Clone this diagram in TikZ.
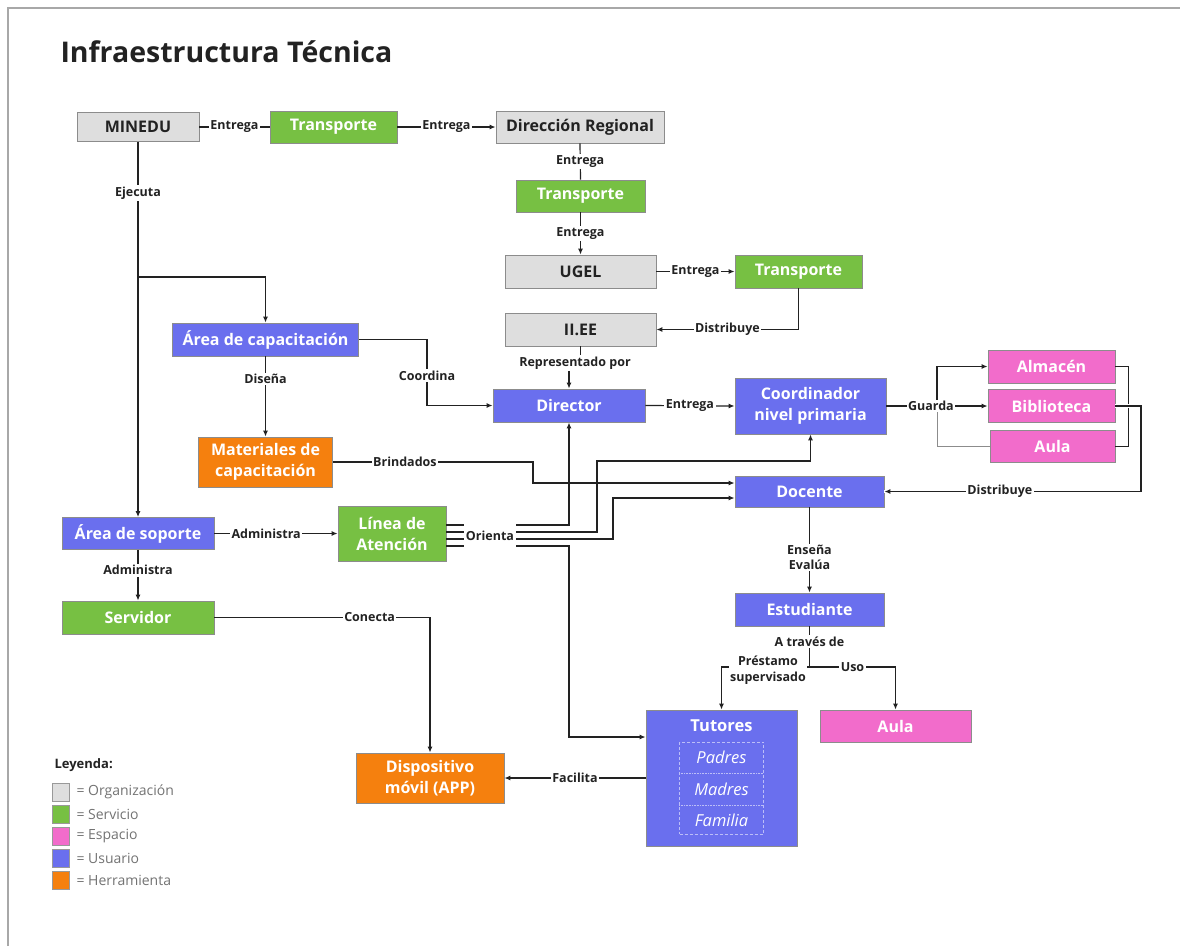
\documentclass[tikz,border=0pt]{standalone}
\usepackage{fontspec}
\setmainfont{Open Sans}
\usetikzlibrary{arrows.meta}

\definecolor{orgfill}{HTML}{DEDEDE}
\definecolor{srvfill}{HTML}{77C043}
\definecolor{espfill}{HTML}{F26CCB}
\definecolor{usrfill}{HTML}{6A6FEE}
\definecolor{herfill}{HTML}{F5800E}
\definecolor{ink}{HTML}{222222}
\definecolor{frame}{HTML}{A8A8A8}

\tikzset{
  box/.style={draw=black!45, line width=0.8pt, inner sep=2pt, align=center,
    font=\fontsize{16}{21}\selectfont\bfseries, text=white},
  org/.style={box, fill=orgfill, text=ink},
  srv/.style={box, fill=srvfill},
  esp/.style={box, fill=espfill},
  usr/.style={box, fill=usrfill},
  her/.style={box, fill=herfill},
  lbl/.style={fill=white, inner sep=1.5pt, text=ink, align=center,
    font=\fontsize{12.5}{15}\selectfont\bfseries},
  conn/.style={line width=1.2pt, draw=ink},
  arr/.style={conn, -{Latex[length=6pt,width=5pt]}},
  legsq/.style={draw=black!40, line width=0.6pt, minimum width=17, minimum height=18, inner sep=0pt},
  legtx/.style={anchor=west, text=black!55, font=\fontsize{14}{16}\selectfont},
  tutitem/.style={text=white, font=\fontsize{16.5}{19}\selectfont\itshape}
}

\begin{document}
\begin{tikzpicture}[x=1pt,y=-1pt]
\useasboundingbox (0,0) rectangle (1180,946);
\fill[white] (0,0) rectangle (1180,946);
% page frame
\draw[frame, line width=2pt] (8,946) -- (8,8) -- (1180,8);

% title
\node[anchor=west, text=ink, font=\fontsize{28.5}{32}\selectfont\bfseries] (title) at (57,52) {Infraestructura Técnica};

% ---------- nodes ----------
\node[org, minimum width=122, minimum height=29] (minedu) at (138,127) {MINEDU};
\node[srv, minimum width=127, minimum height=32] (tr1) at (333.5,127) {Transporte};
\node[org, minimum width=168, minimum height=32] (dirreg) at (580,127) {Dirección Regional};
\node[srv, minimum width=129, minimum height=32] (tr2) at (580.5,196) {Transporte};
\node[org, minimum width=151, minimum height=33] (ugel) at (580.5,271.5) {UGEL};
\node[srv, minimum width=127, minimum height=33] (tr3) at (798.5,271.5) {Transporte};
\node[org, minimum width=151, minimum height=33] (iiee) at (580.5,329.5) {II.EE};
\node[usr, minimum width=186, minimum height=33] (acap) at (265.5,339.5) {Área de capacitación};
\node[usr, minimum width=152, minimum height=33] (director) at (569,405.5) {Director};
\node[usr, minimum width=151, minimum height=56] (coord) at (810.5,406) {Coordinador\\nivel primaria};
\node[esp, minimum width=127, minimum height=33] (alm) at (1051.5,366.5) {Almacén};
\node[esp, minimum width=127, minimum height=33] (bib) at (1051.5,406) {Biblioteca};
\node[esp, minimum width=125, minimum height=32] (aula1) at (1052.5,446) {Aula};
\node[her, minimum width=134, minimum height=50] (mat) at (265.5,462) {Materiales de\\capacitación};
\node[usr, minimum width=149, minimum height=31] (docente) at (809.5,491.5) {Docente};
\node[usr, minimum width=152, minimum height=32] (asop) at (138,533.5) {Área de soporte};
\node[srv, minimum width=108, minimum height=55] (linea) at (392,533.5) {Línea de\\Atención};
\node[srv, minimum width=152, minimum height=33] (servidor) at (138,617.5) {Servidor};
\node[usr, minimum width=149, minimum height=33] (estud) at (809.5,609.5) {Estudiante};
\node[usr, minimum width=151, minimum height=136] (tutores) at (721.5,778) {};
\node[esp, minimum width=151, minimum height=32] (aula2) at (895.5,726) {Aula};
\node[her, minimum width=148, minimum height=50] (disp) at (430,778) {Dispositivo\\móvil (APP)};

% contents of the Tutores box
\node[text=white, font=\fontsize{16.5}{19}\selectfont\bfseries] (tuttitle) at (721.5,726) {Tutores};
\node[draw=white!55!usrfill, densely dashed, line width=0.5pt, minimum width=84, minimum height=92, inner sep=0pt] (tutin) at (721.5,788) {};
\node[tutitem] (padres) at (721.5,757) {Padres};
\node[tutitem] (madres) at (721.5,789) {Madres};
\node[tutitem] (familia) at (721.5,820) {Familia};
\coordinate (sep1) at (721.5,773);
\coordinate (sep2) at (721.5,805);
\draw[white!55!usrfill, densely dotted, line width=0.6pt] (tutin.west |- sep1) -- (tutin.east |- sep1);
\draw[white!55!usrfill, densely dotted, line width=0.6pt] (tutin.west |- sep2) -- (tutin.east |- sep2);

% ---------- connectors ----------
% delivery chain
\draw[conn] (minedu.east) -- node[lbl]{Entrega} (tr1.west);
\draw[arr] (tr1.east) -- node[lbl]{Entrega} (dirreg.west);
\draw[conn] (dirreg.south) -- node[lbl]{Entrega} (tr2.north);
\draw[arr] (tr2.south) -- node[lbl]{Entrega} (ugel.north);
\draw[arr] (ugel.east) -- node[lbl]{Entrega} (tr3.west);
\draw[arr] (tr3.south) |- node[lbl, pos=0.75]{Distribuye} (iiee.east);
\node[lbl] (repr) at (575,363) {Representado por};
\draw[conn] (iiee.south) -- (iiee.south |- repr.north);
\draw[arr] (repr.south -| director.north) -- (director.north);

% MINEDU executes
\coordinate (ej1) at (138,277);
\draw[conn] (minedu.south) -- node[lbl, pos=0.38]{Ejecuta} (ej1);
\draw[arr] (ej1) -- (asop.north);
\draw[arr] (ej1) -| (acap.north);

% training area
\draw[arr] (acap.south) -- node[lbl, pos=0.28]{Diseña} (mat.north);
\coordinate (cx) at (427,0);
\draw[arr] (acap.east) -- (acap.east -| cx) -- node[lbl, pos=0.55]{Coordina} (director.west -| cx) -- (director.west);
\draw[arr] (director.east) -- node[lbl]{Entrega} (coord.west);

% storage spaces
\coordinate (gj) at (937,406);
\draw[arr] (gj) |- (alm.west);
\draw[black!45, line width=0.6pt] (gj) |- (aula1.west);
\draw[arr] (coord.east) -- node[lbl, pos=0.44]{Guarda} (bib.west);
\coordinate (bx) at (1128,0);
\draw[conn, line width=0.9pt] (alm.east) -- (alm.east -| bx) -- (aula1.east -| bx) -- (aula1.east);
\coordinate (dx) at (1141,0);
\draw[arr, preaction={draw=white, line width=3.5pt, -}] (bib.east) -- (bib.east -| dx) -- (docente.east -| dx) -- node[lbl, pos=0.55]{Distribuye} (docente.east);

% materials to teacher
\coordinate (bx2) at (533,0);
\draw[arr] (mat.east) -- node[lbl, pos=0.36]{Brindados} (mat.east -| bx2) |- ([yshift=8.5pt]docente.west);

% support area
\draw[arr] (asop.east) -- node[lbl, pos=0.42]{Administra} (linea.west);
\draw[arr] (asop.south) -- node[lbl, pos=0.4]{Administra} (servidor.north);
\draw[arr] (servidor.east) -| node[lbl, pos=0.36]{Conecta} (disp.north);

% help line guidance
\coordinate (ob) at (597,461);
\coordinate (oc) at (613,498);
\coordinate (od) at (569,737);
\draw[arr] ([yshift=8.5pt]linea.east) -| (director.south);
\draw[arr] ([yshift=1.5pt]linea.east) -| (ob) -| (coord.south);
\draw[arr] ([yshift=-5.5pt]linea.east) -| (oc) -- (oc -| docente.west);
\draw[arr] ([yshift=-12.5pt]linea.east) -| (od) -- (od -| tutores.west);
\node[lbl, minimum height=30, inner xsep=2pt] (orienta) at (490,536) {Orienta};

% teaching and use
\draw[arr] (docente.south) -- node[lbl, pos=0.59]{Enseña\\Evalúa} (estud.north);
\coordinate (ej2) at (809.5,667);
\draw[conn] (estud.south) -- node[lbl, pos=0.37]{A través de} (ej2);
\draw[arr] (ej2) -| (tutores.north);
\draw[arr] (ej2) -| node[lbl, pos=0.25]{Uso} (aula2.north);
\node[lbl, font=\fontsize{12.5}{16.5}\selectfont\bfseries] (prest) at (768,670) {Préstamo\\supervisado};
\draw[arr] (tutores.west) -- node[lbl]{Facilita} (disp.east);

% ---------- legend ----------
\node[anchor=west, text=ink, font=\fontsize{13}{15}\selectfont\bfseries] (leyenda) at (51,765) {Leyenda:};
\node[legsq, fill=orgfill] (lg1) at (60.5,792) {};
\node[legsq, fill=srvfill] (lg2) at (60.5,814) {};
\node[legsq, fill=espfill] (lg3) at (60.5,836.5) {};
\node[legsq, fill=usrfill] (lg4) at (60.5,858) {};
\node[legsq, fill=herfill] (lg5) at (60.5,880.5) {};
\node[legtx] (lt1) at (73,792) {= Organización};
\node[legtx] (lt2) at (73,814) {= Servicio};
\node[legtx] (lt3) at (73,836.5) {= Espacio};
\node[legtx] (lt4) at (73,858) {= Usuario};
\node[legtx] (lt5) at (73,880.5) {= Herramienta};
\end{tikzpicture}
\end{document}
